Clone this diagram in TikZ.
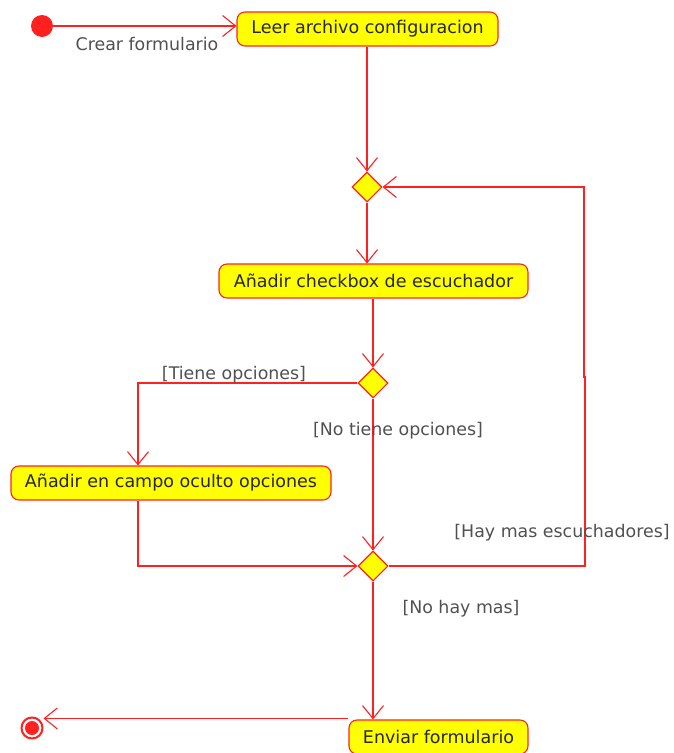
\documentclass[tikz,border=0pt]{standalone}
\usepackage{fontspec}
\setmainfont{DejaVu Sans}
\usetikzlibrary{shapes.geometric,arrows.meta}

\definecolor{umlred}{HTML}{FF2020}
\definecolor{umlyellow}{HTML}{FFFF00}
\definecolor{guardgray}{HTML}{505050}

\tikzset{
  action/.style={draw=umlred, fill=umlyellow, rounded corners=8pt, line width=1.1pt,
    minimum height=34pt, inner sep=0pt, text=black!85,
    font=\fontsize{17.5}{20}\selectfont},
  decision/.style={draw=umlred, fill=umlyellow, diamond, line width=1.1pt,
    minimum width=30pt, minimum height=30pt, inner sep=0pt},
  guard/.style={text=guardgray, inner sep=0pt, font=\fontsize{17.4}{20}\selectfont},
  flow/.style={draw=umlred, line width=1.1pt,
    -{Straight Barb[length=13pt,width=21pt,line width=1.1pt]}}
}

\begin{document}
\begin{tikzpicture}[x=1pt,y=-1pt]
  \useasboundingbox (0,0) rectangle (673,753);

  % start and end
  \node (start) [circle, fill=umlred, minimum size=22pt, inner sep=0pt] at (42,26) {};
  \node (fin) [circle, draw=umlred, line width=2pt, minimum size=21pt, inner sep=0pt] at (32,728) {};
  \fill[umlred] (fin.center) circle (7pt);

  % actions
  \node (leer) [action, minimum width=261pt] at (367.5,29) {Leer archivo configuracion};
  \node (chk) [action, minimum width=309pt] at (373.5,281) {Añadir checkbox de escuchador};
  \node (campo) [action, minimum width=320pt] at (171,483) {Añadir en campo oculto opciones};
  \node (env) [action, minimum width=179pt] at (438.5,737) {Enviar formulario};

  % decisions
  \node (d1) [decision] at (367,187) {};
  \node (d2) [decision] at (373,383) {};
  \node (d3) [decision] at (373,566) {};

  % helper coordinates for the bends
  \coordinate (cx) at (138,0);
  \coordinate (loopa) at (585,377);
  \coordinate (loopb) at (584,377);

  % flows
  \draw[flow] (start.east) -- (start.east -| leer.west);
  \draw[flow] (leer.south -| d1.north) -- (d1.north);
  \draw[flow] (d1.south) -- (d1.south |- chk.north);
  \draw[flow] (chk.south -| d2.north) -- (d2.north);
  \draw[flow] (d2.west) -| (campo.north -| cx);
  \draw[flow] (d2.south) -- (d3.north);
  \draw[flow] (campo.south -| cx) |- (d3.west);
  \draw[flow] (d3.east) -| (loopa) -- (loopb) |- (d1.east);
  \draw[flow] (d3.south) -- (d3.south |- env.north);
  \draw[flow] ([yshift=1pt]env.north west) -- ([yshift=1pt]env.north west -| fin.east);

  % guards and labels
  \node[guard] (lcrear) at (147,44) {Crear formulario};
  \node[guard] (ltiene) at (234,375) {[Tiene opciones]};
  \node[guard] (lnotiene) at (398,431) {[No tiene opciones]};
  \node[guard] (lhay) at (562,533) {[Hay mas escuchadores]};
  \node[guard] (lnohay) at (461,609) {[No hay mas]};
\end{tikzpicture}
\end{document}
